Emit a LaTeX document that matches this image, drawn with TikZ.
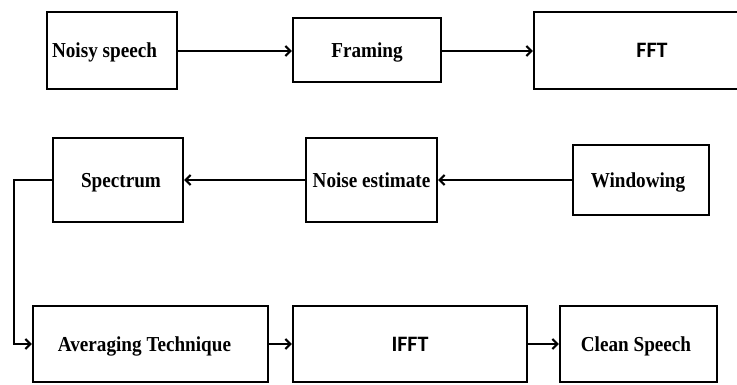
\documentclass[tikz,border=0pt]{standalone}
\usepackage{fontspec}
\setmainfont{Liberation Serif}[FakeStretch=0.9]
\newfontfamily\calfont{Carlito}
\usetikzlibrary{arrows.meta}
\tikzset{
  box/.style={draw=black, line width=2.2pt, fill=white, inner sep=0pt,
    text height=14pt, text depth=0pt,
    font=\fontsize{21.3}{24}\selectfont\bfseries},
  sansbox/.style={box, font=\fontsize{22}{26}\calfont\bfseries, text height=14.5pt},
  flow/.style={draw=black, line width=2.2pt, -{Straight Barb[length=5pt,width=10pt]}},
  link/.style={draw=black, line width=2.2pt}
}
\begin{document}
\begin{tikzpicture}[x=1pt,y=-1pt]
\useasboundingbox (0,0) rectangle (737,384);
\clip (0,0) rectangle (737,384);
% top row
\node[box, minimum width=130pt, minimum height=77pt] (noisy) at (112,50.5) {Noisy speech\hspace*{15pt}};
\node[box, minimum width=148pt, minimum height=64pt] (framing) at (367,50) {Framing};
\node[sansbox, minimum width=236pt, minimum height=77pt] (fft) at (652,50.5) {FFT};
% middle row
\node[box, minimum width=130pt, minimum height=84pt] (spectrum) at (118,180) {\hspace*{6pt}Spectrum};
\node[box, minimum width=131pt, minimum height=84pt] (noise) at (371.5,180) {Noise estimate};
\node[box, minimum width=136pt, minimum height=70pt] (window) at (641,180) {Windowing\hspace*{6pt}};
% bottom row
\node[box, minimum width=235pt, minimum height=76pt] (avg) at (150.5,344) {Averaging Technique\hspace*{12pt}};
\node[sansbox, minimum width=234pt, minimum height=76pt] (ifft) at (410,344) {IFFT};
\node[box, minimum width=157pt, minimum height=76pt] (clean) at (638.5,344) {Clean Speech\hspace*{5pt}};
% connectors
\coordinate (c1) at (14,180);
\coordinate (c2) at (14,344);
\draw[flow] (noisy.east |- 0,51) -- (framing.west |- 0,51);
\draw[flow] (framing.east |- 0,51) -- (fft.west |- 0,51);
\draw[flow] (window.west) -- (noise.east);
\draw[flow] (noise.west) -- (spectrum.east);
\draw[link] (spectrum.west) -- (c1) -- (c2);
\draw[flow] ([xshift=-1.1pt]c2) -- (avg.west);
\draw[flow] (avg.east) -- (ifft.west);
\draw[flow] (ifft.east) -- (clean.west);
\end{tikzpicture}
\end{document}
